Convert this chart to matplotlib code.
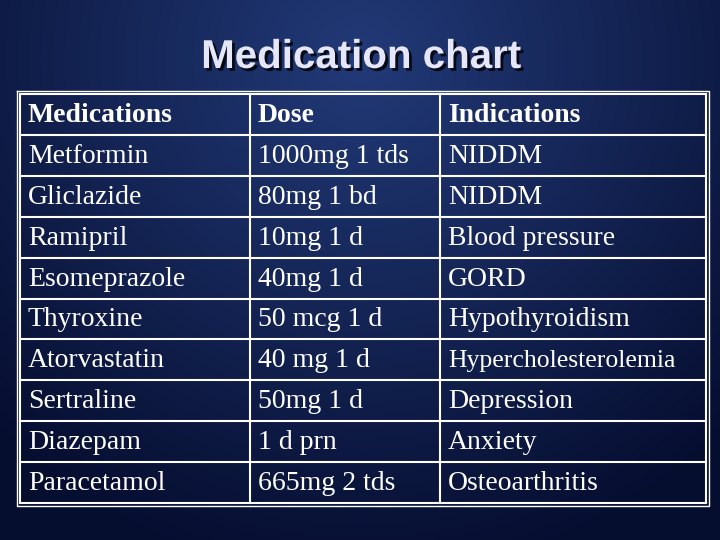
import numpy as np
import matplotlib.pyplot as plt
import matplotlib.patheffects as pe

headers = ["Medications", "Dose", "Indications"]
medications = ["Metformin", "Gliclazide", "Ramipril", "Esomeprazole", "Thyroxine",
               "Atorvastatin", "Sertraline", "Diazepam", "Paracetamol"]
doses = ["1000mg 1 tds", "80mg 1 bd", "10mg 1 d", "40mg 1 d", "50 mcg 1 d",
         "40 mg 1 d", "50mg 1 d", "1 d prn", "665mg 2 tds"]
indications = ["NIDDM", "NIDDM", "Blood pressure", "GORD", "Hypothyroidism",
               "Hypercholesterolemia", "Depression", "Anxiety", "Osteoarthritis"]

W, H = 720, 540
fig = plt.figure(figsize=(7.2, 5.4), dpi=100)
ax = fig.add_axes([0, 0, 1, 1])
ax.set_xlim(0, W)
ax.set_ylim(H, 0)
ax.axis("off")

# background gradient, lighter near top centre
yy, xx = np.mgrid[0:H, 0:W]
d = np.sqrt(((xx - 360) / 520) ** 2 + ((yy - 60) / 520) ** 2)
d = np.clip(d, 0, 1)
c0 = np.array([0x22, 0x3a, 0x78]) / 255
c1 = np.array([0x06, 0x0e, 0x30]) / 255
img = c0[None, None, :] * (1 - d[..., None]) + c1[None, None, :] * d[..., None]
ax.imshow(img, extent=[0, W, H, 0], zorder=0)

ax.text(361, 57, "Medication chart", ha="center", va="center", fontsize=29,
        fontweight="bold", color="#e6e6fa", family="Liberation Sans",
        path_effects=[pe.withSimplePatchShadow(offset=(2, -2), shadow_rgbFace="black", alpha=0.8)])

col_x = [20, 250, 440, 706]
top, bottom = 94, 503
rows = [headers] + [list(r) for r in zip(medications, doses, indications)]
rh = (bottom - top) / len(rows)

for xv in col_x:
    ax.plot([xv, xv], [top, bottom], color="white", lw=1.5)
for i in range(len(rows) + 1):
    ax.plot([col_x[0], col_x[-1]], [top + i * rh] * 2, color="white", lw=1.5)
ax.plot([col_x[0] - 3, col_x[-1] + 3, col_x[-1] + 3, col_x[0] - 3, col_x[0] - 3],
        [top - 3, top - 3, bottom + 3, bottom + 3, top - 3], color="white", lw=1)

for i, row in enumerate(rows):
    yc = top + (i + 0.5) * rh
    for j, txt in enumerate(row):
        fs = 18.5 if txt == "Hypercholesterolemia" else 20
        ax.text(col_x[j] + 8, yc + 1, txt, ha="left", va="center", fontsize=fs,
                color="white", family="Liberation Serif",
                fontweight="bold" if i == 0 else "normal")

fig.savefig("out.png", dpi=100)
